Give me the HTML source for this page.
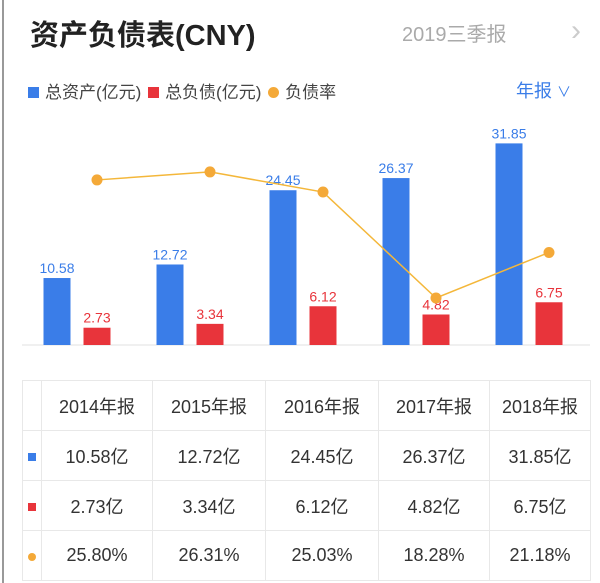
<!DOCTYPE html>
<html><head><meta charset="utf-8">
<style>
body{margin:0;width:600px;height:583px;background:#fff;overflow:hidden;position:relative;font-family:"Liberation Sans","Noto Sans CJK SC",sans-serif;}
.abs{position:absolute;white-space:nowrap;}
table{position:absolute;left:22px;top:380px;border-collapse:collapse;}
td{border:1px solid #e8e8e8;text-align:center;font-size:18px;color:#333;height:49px;padding:0;}
</style></head><body>
<div class="abs" style="left:2px;top:0;width:2px;height:583px;background:#999"></div>
<div class="abs" style="left:30px;top:12px;font-size:29px;font-weight:bold;color:#222">资产负债表(CNY)</div>
<div class="abs" style="left:402px;top:18px;font-size:20px;color:#aaa">2019三季报</div>
<div class="abs" style="left:571px;top:14px;font-size:30px;color:#ccc">›</div>
<div class="abs" style="left:28px;top:78px;font-size:17px;color:#444">
<span><span style="display:inline-block;width:11px;height:11px;background:#3a7de8;margin-right:6px"></span>总资产(亿元)</span>
<span style="margin-left:2px"><span style="display:inline-block;width:11px;height:11px;background:#e8343b;margin-right:6px"></span>总负债(亿元)</span>
<span style="margin-left:2px"><span style="display:inline-block;width:11px;height:11px;border-radius:50%;background:#f4a938;margin-right:6px"></span>负债率</span>
</div>
<div class="abs" style="left:516px;top:77px;font-size:18px;color:#3a7de8">年报 <span style="font-size:14px">∨</span></div>
<svg id="chart" width="600" height="360" style="position:absolute;left:0;top:0"></svg>
<table>
<tr><td style="width:18px"></td><td style="width:110px">2014年报</td><td style="width:112px">2015年报</td><td style="width:112px">2016年报</td><td style="width:110px">2017年报</td><td style="width:100px">2018年报</td></tr>
<tr><td><span style="display:inline-block;width:8px;height:8px;background:#3a7de8"></span></td><td>10.58亿</td><td>12.72亿</td><td>24.45亿</td><td>26.37亿</td><td>31.85亿</td></tr>
<tr><td><span style="display:inline-block;width:8px;height:8px;background:#e8343b"></span></td><td>2.73亿</td><td>3.34亿</td><td>6.12亿</td><td>4.82亿</td><td>6.75亿</td></tr>
<tr><td><span style="display:inline-block;width:8px;height:8px;border-radius:50%;background:#f4a938"></span></td><td>25.80%</td><td>26.31%</td><td>25.03%</td><td>18.28%</td><td>21.18%</td></tr>
</table>
<script>
const categories=["2014","2015","2016","2017","2018"];
const assets=[10.58,12.72,24.45,26.37,31.85];
const liabilities=[2.73,3.34,6.12,4.82,6.75];
const ratio=[25.80,26.31,25.03,18.28,21.18];
const svg=document.getElementById('chart');
const NS='http://www.w3.org/2000/svg';
const base=345;
function yBar(v){return base-v*6.33;}
function yRatio(v){return 298-(v-18.28)*15.7;}
function xGroup(i){return 57+i*113;}
function mk(t,a){const e=document.createElementNS(NS,t);for(const k in a)e.setAttribute(k,a[k]);svg.appendChild(e);return e;}
const bl=mk('line',{x1:22,x2:590,y1:base,y2:base,stroke:'#e0e0e0'});


categories.forEach((c,i)=>{
  const x=xGroup(i);
  const b=mk('rect',{x:x-13.5,y:yBar(assets[i]),width:27,height:base-yBar(assets[i]),fill:'#3a7de8'});
  
  
  const t=mk('text',{x:x,y:yBar(assets[i])-5,'text-anchor':'middle','font-size':14,fill:'#3a7de8'});t.textContent=assets[i].toFixed(2);
  
  
  const r=mk('rect',{x:x+26.5,y:yBar(liabilities[i]),width:27,height:base-yBar(liabilities[i]),fill:'#e8343b'});
  
  
  const t2=mk('text',{x:x+40,y:yBar(liabilities[i])-5,'text-anchor':'middle','font-size':14,fill:'#e8343b'});t2.textContent=liabilities[i].toFixed(2);
  
  
});
const pts=ratio.map((v,i)=>(xGroup(i)+40)+','+yRatio(v)).join(' ');
const pl=mk('polyline',{points:pts,fill:'none',stroke:'#f4b73a','stroke-width':1.5});


ratio.forEach((v,i)=>{
  const d=mk('circle',{cx:xGroup(i)+40,cy:yRatio(v),r:5.5,fill:'#f4a938'});
  
  
});
</script>
</body></html>
